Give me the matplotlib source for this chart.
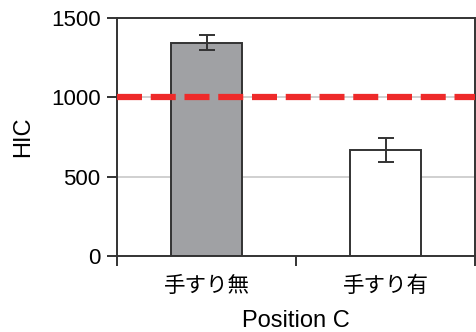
import matplotlib
matplotlib.use("Agg")
import matplotlib.pyplot as plt
from matplotlib.ticker import FixedLocator

categories = ["手すり無", "手すり有"]
values = [1345, 670]
errors = [45, 75]
colors = ["#a0a1a4", "#ffffff"]
threshold = 1000
yticks = [0, 500, 1000, 1500]

plt.rcParams['font.family'] = ['Liberation Sans', 'Noto Sans CJK JP', 'DejaVu Sans']

fig = plt.figure(figsize=(4.76, 3.32), dpi=100)
ax = fig.add_axes([0.246, 0.229, 0.752, 0.717])

x = list(range(len(categories)))
ax.set_axisbelow(True)
ax.yaxis.grid(True, color="#c8c8c8", linewidth=1.2)
ax.bar(x, values, width=0.4, color=colors, edgecolor="#333333", linewidth=1.4,
       yerr=errors, capsize=6, error_kw=dict(ecolor="#333333", elinewidth=1.4, capthick=1.4), zorder=2)
ax.axhline(threshold, color="#ee2a2a", linewidth=4.5, dashes=(4, 1.4), zorder=3)

ax.set_xlim(-0.5, 1.5)
ax.set_ylim(0, 1500)
ax.set_yticks(yticks)
ax.set_xticks(x)
ax.set_xticklabels(categories, family=['Noto Sans CJK JP', 'DejaVu Sans'])
ax.xaxis.set_minor_locator(FixedLocator([-0.5, 0.5, 1.5]))
ax.tick_params(axis='x', which='major', length=0, labelsize=15.5, pad=14)
ax.tick_params(axis='x', which='minor', length=7, width=1.4, color="#333333")
ax.tick_params(axis='y', length=7, width=1.4, color="#333333", labelsize=16, pad=5)
for s in ax.spines.values():
    s.set_color("#333333")
    s.set_linewidth(1.4)
ax.set_ylabel("HIC", fontsize=17, labelpad=12)
ax.set_xlabel("Position C", fontsize=17, labelpad=9)

fig.savefig("out.png", dpi=100)
